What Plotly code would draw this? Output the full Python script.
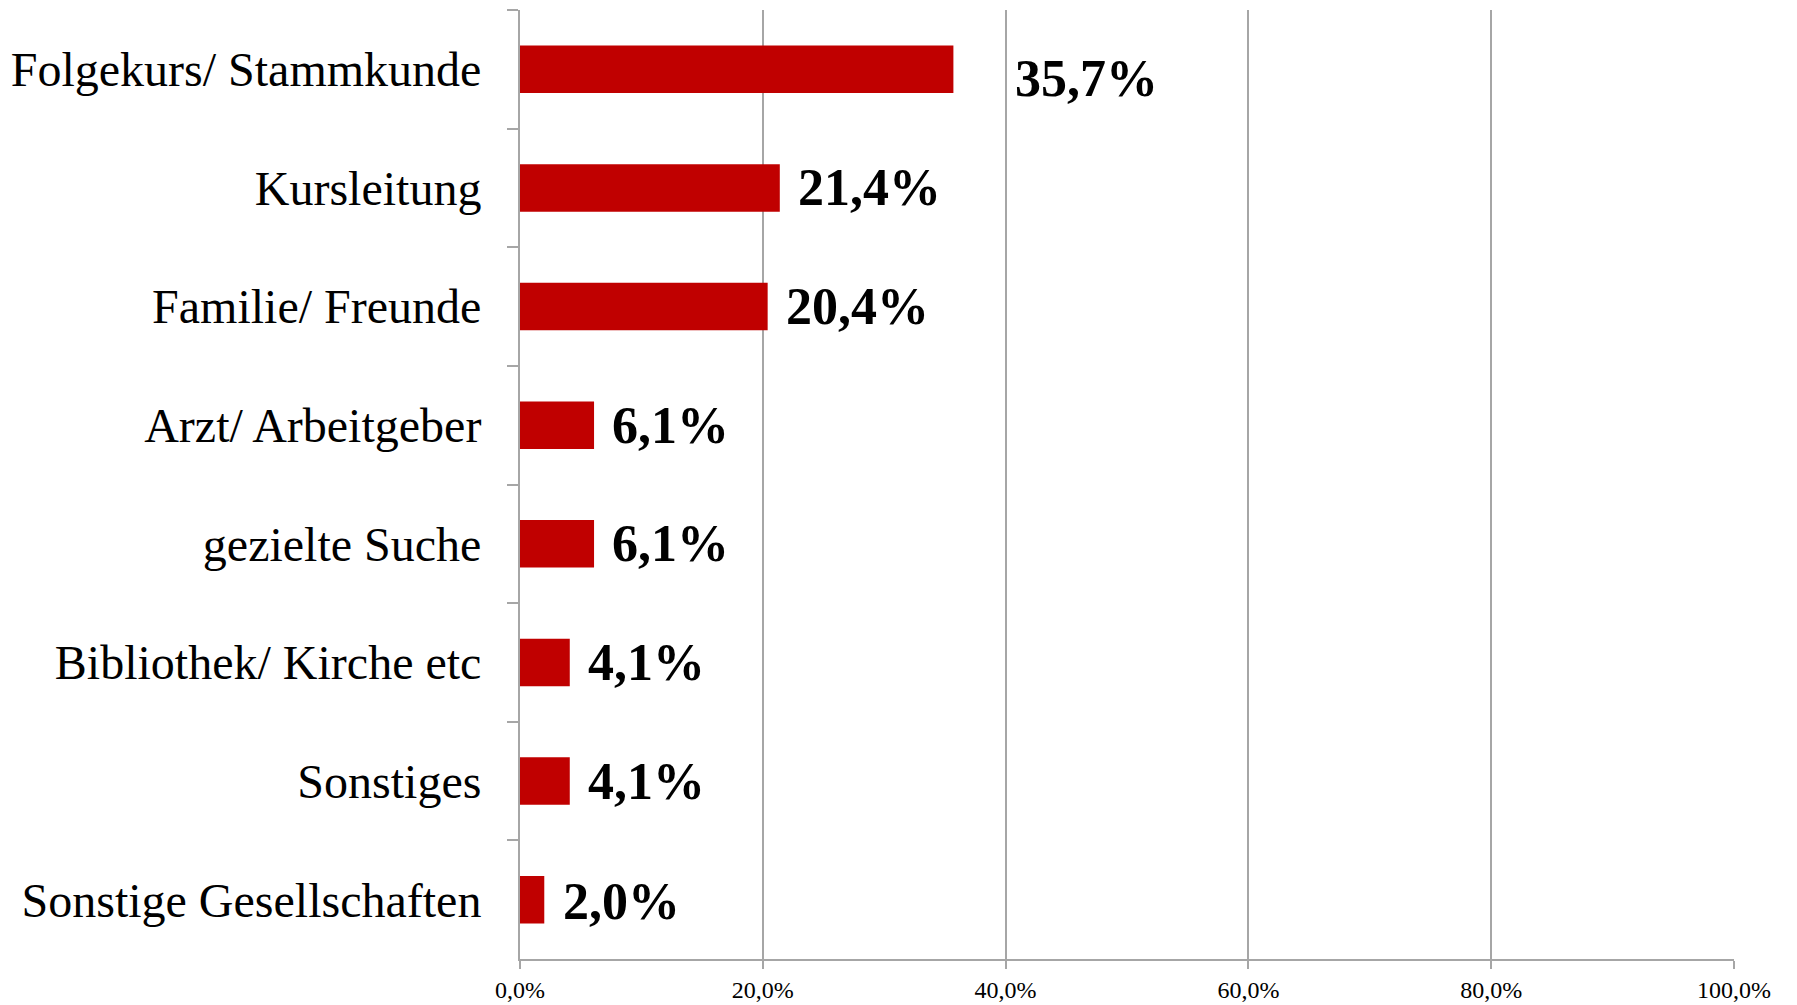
import plotly.graph_objects as go

# Data (top to bottom as shown)
categories = [
    "Folgekurs/ Stammkunde",
    "Kursleitung",
    "Familie/ Freunde",
    "Arzt/ Arbeitgeber",
    "gezielte Suche",
    "Bibliothek/ Kirche etc",
    "Sonstiges",
    "Sonstige Gesellschaften",
]
shares = [0.357, 0.214, 0.204, 0.061, 0.061, 0.041, 0.041, 0.020]
x_ticks = [0.0, 0.2, 0.4, 0.6, 0.8, 1.0]

BAR_RED = "#C00000"
GRID = "#A6A6A6"
FONT = "Liberation Serif"

fig = go.Figure(go.Bar(
    x=shares, y=categories, orientation="h",
    marker=dict(color=BAR_RED, line=dict(width=0)),
    width=0.40,
    hoverinfo="skip",
))

# value labels (the first one sits a bit further out, like the original)
label_shift = [(60, -9), (16, 0), (16, 0), (16, 0), (16, 0), (16, 0), (16, 0), (17, -2)]
for cat, val, (dx, dy) in zip(categories, shares, label_shift):
    fig.add_annotation(
        x=val, y=cat, text=f"<b>{val * 100:.1f}%</b>".replace(".", ","),
        showarrow=False, xanchor="left", yanchor="middle",
        xshift=dx, yshift=dy,
        font=dict(family=FONT, size=52, color="black"),
    )

fig.update_layout(
    width=1797, height=1005,
    margin=dict(l=520, r=63, t=10, b=46),
    paper_bgcolor="white", plot_bgcolor="white",
    separators=",.",
    showlegend=False,
    font=dict(family=FONT, color="black"),
)
fig.update_xaxes(
    range=[0, 1], tickvals=x_ticks, tickformat=".1%",
    showgrid=True, gridcolor=GRID, gridwidth=1.5,
    showline=True, linecolor=GRID, linewidth=2,
    ticks="outside", ticklen=8, tickcolor=GRID, tickwidth=1.5,
    tickfont=dict(family=FONT, size=24), ticklabelstandoff=0,
    zeroline=False, automargin=False,
)
fig.update_yaxes(
    autorange="reversed", showgrid=False,
    showline=True, linecolor=GRID, linewidth=2,
    ticks="outside", tickson="boundaries", ticklen=11, tickcolor=GRID, tickwidth=1.5,
    tickfont=dict(family=FONT, size=48), ticklabelstandoff=27, automargin=False,
)

fig.write_html("out.html", config={"displayModeBar": False},
               post_script="document.body.style.margin='0';")
